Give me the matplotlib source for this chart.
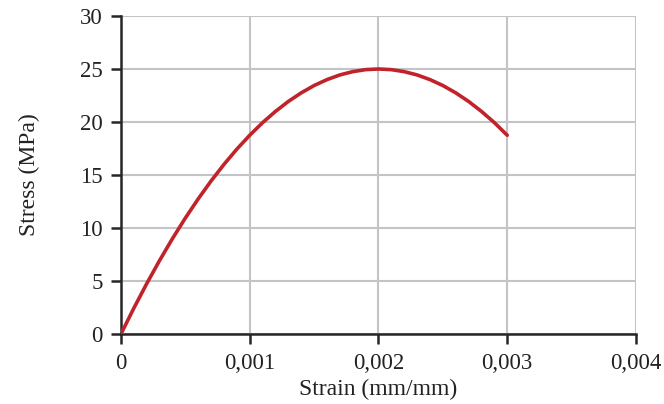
import matplotlib
matplotlib.use("Agg")
import matplotlib.pyplot as plt
from matplotlib.ticker import FuncFormatter

strain = [0.0, 0.0001, 0.0002, 0.0003, 0.0004, 0.0005, 0.0006, 0.0007, 0.0008,
          0.0009, 0.001, 0.0011, 0.0012, 0.0013, 0.0014, 0.0015, 0.0016, 0.0017,
          0.0018, 0.0019, 0.002, 0.0021, 0.0022, 0.0023, 0.0024, 0.0025, 0.0026,
          0.0027, 0.0028, 0.0029, 0.003]
stress = [0.0, 2.44, 4.75, 6.94, 9.0, 10.94, 12.75, 14.44, 16.0,
          17.44, 18.75, 19.94, 21.0, 21.94, 22.75, 23.44, 24.0, 24.44,
          24.75, 24.94, 25.0, 24.94, 24.75, 24.44, 24.0, 23.44, 22.75,
          21.94, 21.0, 19.94, 18.75]
x_ticks = [0, 0.001, 0.002, 0.003, 0.004]
y_ticks = [0, 5, 10, 15, 20, 25, 30]

plt.rcParams['font.family'] = ['Liberation Serif', 'DejaVu Serif']

fig = plt.figure(figsize=(6.64, 4.04), dpi=100)
ax = fig.add_axes([0.1822, 0.1733, 0.7756, 0.7871])

ax.plot(strain, stress, color='#C0232A', lw=2.6, solid_capstyle='round',
        solid_joinstyle='round', zorder=3)

ax.set_xlim(0, 0.004)
ax.set_ylim(0, 30)
ax.set_xticks(x_ticks)
ax.set_yticks(y_ticks)
ax.xaxis.set_major_formatter(FuncFormatter(lambda v, p: '0' if v == 0 else f'{v:.3f}'.replace('.', ',')))
ax.grid(True, color='#C4C4C8', lw=1.5, zorder=0)
ax.set_axisbelow(True)

for s in ['top', 'right']:
    ax.spines[s].set_visible(False)
for s in ['left', 'bottom']:
    ax.spines[s].set_color('#262626')
    ax.spines[s].set_linewidth(1.8)
ax.tick_params(axis='both', direction='out', length=7, width=1.8, color='#262626',
               labelsize=16.5, labelcolor='#222222')
ax.tick_params(axis='y', pad=6)
ax.tick_params(axis='x', pad=7)

ax.set_xlabel('Strain (mm/mm)', fontsize=17, color='#222222', labelpad=3)
ax.set_ylabel('Stress (MPa)', fontsize=17, color='#222222', labelpad=29)

fig.savefig('out.png', dpi=100)
